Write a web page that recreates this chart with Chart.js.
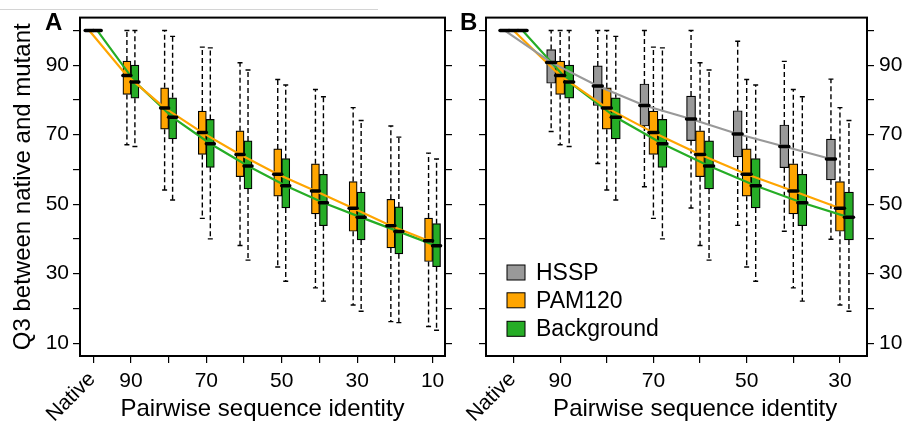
<!DOCTYPE html>
<html>
<head>
<meta charset="utf-8">
<script src="https://cdn.jsdelivr.net/npm/chart.js@4.4.1/dist/chart.umd.min.js"></script>
<style>
  body { margin: 0; background: #fff; width: 906px; height: 423px; overflow: hidden; position: relative; }
  canvas { position: absolute; top: 0; }
  #chartA { left: 0; }
  #chartB { left: 453px; }
  .rule { position: absolute; left: 0; top: 9px; width: 378px; height: 1px; background: #d4d4d4; }
</style>
</head>
<body>
<div class="rule"></div>
<canvas id="chartA" width="453" height="423"></canvas>
<canvas id="chartB" width="453" height="423"></canvas>
<script>
// categories (pairwise sequence identity)
const identity = ['Native', '90', '80', '70', '60', '50', '40', '30', '20', '10'];
const shownLabels = ['', '90', '', '70', '', '50', '', '30', '', '10']; // Native is drawn rotated
const yTicks = [10, 20, 30, 40, 50, 60, 70, 80, 90, 100];
const yLabels = [10, 30, 50, 70, 90];

// PAM120 (orange)
const pamMax = [100, 100, 100, 95.2, 90.7, 85.9, 83.0, 77.8, 72.5, 64.7];
const pamQ3  = [100, 91.2, 83.5, 76.8, 71.1, 65.9, 61.6, 56.5, 51.4, 46.0];
const pamMed = [100, 87.0, 77.7, 70.6, 64.3, 58.6, 53.8, 48.8, 43.8, 39.5];
const pamQ1  = [100, 81.6, 71.6, 64.3, 57.9, 52.3, 47.2, 42.2, 37.4, 33.5];
const pamMin = [100, 67.1, 54.1, 45.9, 38.1, 31.9, 25.9, 21.0, 16.2, 14.8];

// Background (green)
const bgMax = [100, 100, 98.3, 95.0, 88.6, 84.3, 80.9, 74.1, 69.3, 63.0];
const bgQ3  = [100, 90.0, 80.6, 74.4, 68.2, 63.1, 58.6, 53.5, 49.2, 44.4];
const bgMed = [100, 85.2, 75.0, 67.4, 61.0, 55.3, 50.4, 46.2, 42.1, 38.0];
const bgQ1  = [100, 80.5, 68.8, 60.6, 54.4, 48.9, 43.8, 39.7, 35.7, 32.0];
const bgMin = [100, 66.6, 51.2, 40.0, 33.9, 27.8, 22.1, 19.2, 15.9, 13.7];

// HSSP (gray, panel B only: Native..30)
const hsspMax = [100, 100, 100, 100, 100, 96.9, 91.1, 86.0];
const hsspQ3  = [100, 94.5, 89.8, 84.6, 81.1, 76.9, 72.8, 68.7];
const hsspMed = [100, 90.8, 84.0, 78.4, 74.5, 70.2, 66.6, 63.0];
const hsspQ1  = [100, 84.8, 78.4, 72.5, 68.3, 63.6, 60.5, 57.0];
const hsspMin = [100, 70.9, 61.7, 55.0, 48.9, 43.9, 42.2, 39.9];

const FONT = '"Liberation Sans", Arial, Helvetica, sans-serif';
Chart.defaults.font.family = FONT;
Chart.defaults.color = '#000';

const ORANGE = '#FFA500', GREEN = '#26AD26', GRAY = '#999999';

// cuts a series down to the first n categories
const cut = (arr, n) => arr.slice(0, n);

function group(name, color, min, q1, med, q3, max, off, n) {
  return { name, color, off, min: cut(min, n), q1: cut(q1, n), med: cut(med, n), q3: cut(q3, n), max: cut(max, n) };
}

// whiskers, medians, frame, labels, legend
const boxplotPlugin = {
  id: 'boxplot',
  beforeDatasetsDraw(chart, args, o) {
    const { ctx } = chart;
    const x = chart.scales.x, y = chart.scales.y;
    ctx.save();
    ctx.strokeStyle = '#000';
    ctx.lineWidth = 1.4;
    o.groups.forEach(g => {
      g.med.forEach((_, i) => {
        const px = x.getPixelForValue(i + g.off);
        const yMax = y.getPixelForValue(g.max[i]), yQ3 = y.getPixelForValue(g.q3[i]);
        const yQ1 = y.getPixelForValue(g.q1[i]), yMin = y.getPixelForValue(g.min[i]);
        ctx.setLineDash([5, 3]);
        ctx.beginPath();
        ctx.moveTo(px, yQ3); ctx.lineTo(px, yMax);
        ctx.moveTo(px, yQ1); ctx.lineTo(px, yMin);
        ctx.stroke();
        ctx.setLineDash([]);
        ctx.beginPath();
        ctx.moveTo(px - 2.5, yMax); ctx.lineTo(px + 2.5, yMax);
        ctx.moveTo(px - 2.5, yMin); ctx.lineTo(px + 2.5, yMin);
        ctx.stroke();
      });
    });
    ctx.restore();
  },
  afterDatasetsDraw(chart, args, o) {
    const { ctx, chartArea: a } = chart;
    const x = chart.scales.x, y = chart.scales.y;
    ctx.save();
    // medians
    ctx.strokeStyle = '#000';
    ctx.lineWidth = 3.5;
    ctx.lineCap = 'round';
    o.groups.forEach(g => {
      g.med.forEach((v, i) => {
        const px = x.getPixelForValue(i + g.off), py = y.getPixelForValue(v);
        ctx.beginPath();
        ctx.moveTo(px - o.boxW / 2, py); ctx.lineTo(px + o.boxW / 2, py);
        ctx.stroke();
      });
    });
    ctx.lineCap = 'butt';
    // frame
    ctx.lineWidth = 2;
    ctx.strokeRect(a.left, a.top, a.right - a.left, a.bottom - a.top);
    // panel letter
    ctx.fillStyle = '#000';
    ctx.font = 'bold 24px ' + FONT;
    ctx.textBaseline = 'alphabetic';
    ctx.fillText(o.panel, o.panelX, 30);
    // x title
    ctx.font = '24px ' + FONT;
    ctx.textAlign = 'center';
    ctx.textBaseline = 'middle';
    ctx.fillText('Pairwise sequence identity', (a.left + a.right) / 2 + o.titleShift, 409);
    // rotated "Native"
    ctx.save();
    ctx.translate(x.getPixelForValue(0) - 22, x.top + 41);
    ctx.rotate(-Math.PI / 4);
    ctx.font = '21px ' + FONT;
    ctx.textAlign = 'center';
    ctx.textBaseline = 'middle';
    ctx.fillText(identity[0], 0, 0);
    ctx.restore();
    // legend
    if (o.legend) {
      const rows = [-83.5, -55.7, -27.2];
      ctx.font = '23px ' + FONT;
      ctx.textAlign = 'left';
      ctx.lineWidth = 1;
      o.groups.forEach((g, k) => {
        const cy = a.bottom + rows[k];
        ctx.fillStyle = g.color;
        ctx.fillRect(a.left + 21, cy - 7.5, 18, 15);
        ctx.strokeRect(a.left + 21, cy - 7.5, 18, 15);
        ctx.fillStyle = '#000';
        ctx.fillText(g.name, a.left + 50, cy + 1);
      });
    }
    ctx.restore();
  }
};

function yAxis(pos, width, labelled, title) {
  return {
    type: 'linear', position: pos, min: 6.3, max: 103.7,
    afterBuildTicks: s => { s.ticks = yTicks.map(v => ({ value: v })); },
    afterFit: s => { s.width = width; },
    grid: { drawOnChartArea: false, drawTicks: true, tickLength: 7, color: '#000', lineWidth: 1.2 },
    border: { display: false },
    ticks: {
      padding: pos === 'left' ? 4 : 5, font: { size: 21 },
      callback: v => (labelled && yLabels.includes(v)) ? v : ''
    },
    title: title ? { display: true, text: title, font: { size: 24 }, padding: { top: 9, bottom: 0 } } : { display: false }
  };
}

function makeChart(id, n, xmin, xmax, groups, opts) {
  const lines = groups.map(g => ({
    type: 'line',
    data: g.med.map((v, i) => ({ x: i + g.off, y: v })),
    borderColor: g.color, borderWidth: 2.2, pointRadius: 0, tension: 0, fill: false
  }));
  const bars = groups.map(g => ({
    type: 'bar',
    data: g.q1.map((v, i) => ({ x: i + g.off, y: [v, g.q3[i]] })),
    backgroundColor: g.color, borderColor: '#000', borderWidth: 1.2, borderSkipped: false,
    barThickness: opts.boxW, grouped: false
  }));
  return new Chart(document.getElementById(id), {
    data: { datasets: [...lines, ...bars] },
    options: {
      responsive: false, animation: false,
      layout: { padding: { top: opts.top, left: 0, right: 0, bottom: 0 } },
      plugins: {
        legend: { display: false }, tooltip: { enabled: false },
        boxplot: { groups, boxW: opts.boxW, panel: opts.panel, panelX: opts.panelX, titleShift: opts.titleShift, legend: opts.legend }
      },
      scales: {
        x: {
          type: 'linear', position: 'bottom', min: xmin, max: xmax, offset: false,
          afterBuildTicks: s => { s.ticks = identity.slice(0, n).map((_, i) => ({ value: i })); },
          afterFit: s => { s.height = 67; },
          grid: { drawOnChartArea: false, drawTicks: true, tickLength: 7, color: '#000', lineWidth: 1.2, offset: false },
          border: { display: false },
          ticks: { autoSkip: false, maxRotation: 0, minRotation: 0, padding: 6, font: { size: 21 },
                   callback: v => shownLabels[v] },
          title: { display: false }
        },
        y: opts.yMain,
        y2: opts.ySide
      }
    },
    plugins: [boxplotPlugin]
  });
}

// panel A: PAM120 vs Background, Native..10
makeChart('chartA', 10, -0.35, 9.33, [
  group('PAM120', ORANGE, pamMin, pamQ1, pamMed, pamQ3, pamMax, -0.106, 10),
  group('Background', GREEN, bgMin, bgQ1, bgMed, bgQ3, bgMax, 0.106, 10)
], {
  top: 12, boxW: 8, panel: 'A', panelX: 45, titleShift: 0, legend: false,
  yMain: yAxis('left', 80, true, 'Q3 between native and mutant'),
  ySide: yAxis('right', 8, false, null)
});

// panel B: HSSP, PAM120, Background, Native..30
makeChart('chartB', 8, -0.59, 7.58, [
  group('HSSP', GRAY, hsspMin, hsspQ1, hsspMed, hsspQ3, hsspMax, -0.193, 8),
  group('PAM120', ORANGE, pamMin, pamQ1, pamMed, pamQ3, pamMax, 0, 8),
  group('Background', GREEN, bgMin, bgQ1, bgMed, bgQ3, bgMax, 0.193, 8)
], {
  top: 13, boxW: 9, panel: 'B', panelX: 7, titleShift: 18.7, legend: true,
  yMain: yAxis('right', 39, true, null),
  ySide: yAxis('left', 33, false, null)
});
</script>
</body>
</html>
